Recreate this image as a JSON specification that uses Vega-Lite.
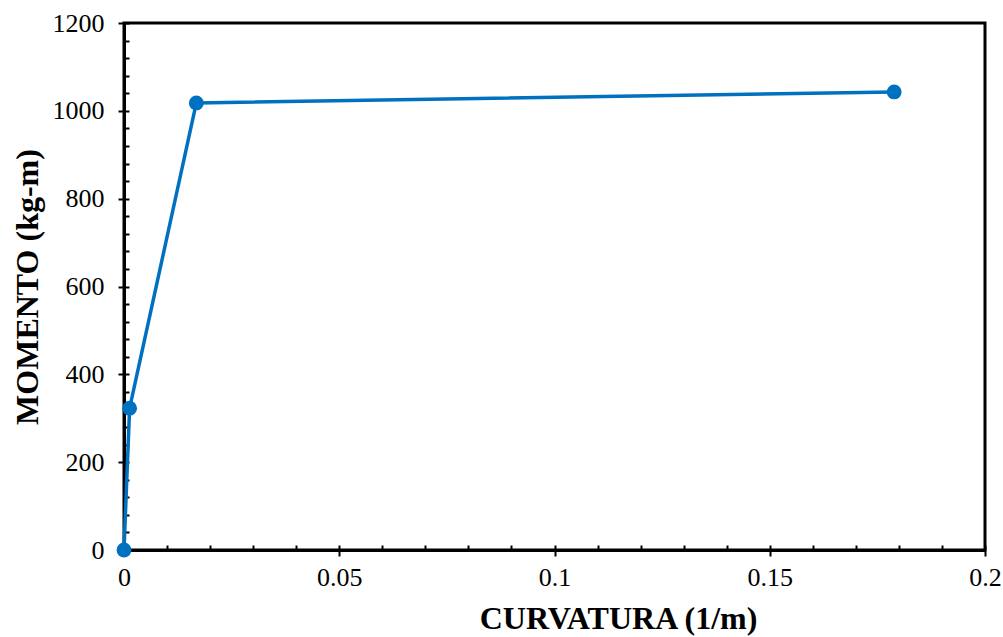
{
  "$schema": "https://vega.github.io/schema/vega-lite/v6.json",
  "autosize": "none",
  "width": 861,
  "height": 527,
  "padding": {"left": 124, "top": 23, "right": 18, "bottom": 87},
  "background": "white",
  "config": {
    "view": {"stroke": "black", "strokeWidth": 3},
    "font": "Liberation Serif"
  },
  "data": {"values": [
    {"curvatura": 0, "momento": 0},
    {"curvatura": 0.0013, "momento": 323},
    {"curvatura": 0.0168, "momento": 1018},
    {"curvatura": 0.1789, "momento": 1043}
  ]},
  "resolve": {"axis": {"x": "independent", "y": "independent"}},
  "layer": [
    {
      "mark": {"type": "line", "color": "#0070C0", "strokeWidth": 3.5},
      "encoding": {
        "x": {"field": "curvatura", "type": "quantitative", "scale": {"domain": [0, 0.2], "nice": false, "zero": false},
          "axis": {"orient": "bottom", "values": [0, 0.05, 0.1, 0.15, 0.2], "format": "~g", "grid": false, "labelFlush": false,
            "domainColor": "black", "domainWidth": 3, "tickColor": "black", "tickWidth": 2, "tickSize": 6,
            "labelFont": "Liberation Serif", "labelFontSize": 26, "labelColor": "black", "labelPadding": 8,
            "title": "CURVATURA (1/m)", "titleFont": "Liberation Serif", "titleFontSize": 32, "titleFontWeight": "bold", "titleColor": "black", "titlePadding": 13, "titleX": 494}},
        "y": {"field": "momento", "type": "quantitative", "scale": {"domain": [0, 1200], "nice": false},
          "axis": {"orient": "left", "values": [0, 200, 400, 600, 800, 1000, 1200], "format": "d", "grid": false, "labelFlush": false,
            "domainColor": "black", "domainWidth": 3, "tickColor": "black", "tickWidth": 2, "tickSize": 6,
            "labelFont": "Liberation Serif", "labelFontSize": 26, "labelColor": "black", "labelPadding": 14,
            "title": "MOMENTO (kg-m)", "titleFont": "Liberation Serif", "titleFontSize": 32, "titleFontWeight": "bold", "titleColor": "black", "titlePadding": 8}}
      }
    },
    {
      "mark": {"type": "point", "filled": true, "color": "#0070C0", "size": 220, "opacity": 1},
      "encoding": {
        "x": {"field": "curvatura", "type": "quantitative",
          "axis": {"orient": "bottom", "values": [0, 0.01, 0.02, 0.03, 0.04, 0.05, 0.06, 0.07, 0.08, 0.09, 0.1, 0.11, 0.12, 0.13, 0.14, 0.15, 0.16, 0.17, 0.18, 0.19, 0.2],
            "grid": false, "domain": false, "labels": false, "title": null, "tickColor": "black", "tickWidth": 2, "tickSize": -5}},
        "y": {"field": "momento", "type": "quantitative",
          "axis": {"orient": "left", "values": [0, 40, 80, 120, 160, 200, 240, 280, 320, 360, 400, 440, 480, 520, 560, 600, 640, 680, 720, 760, 800, 840, 880, 920, 960, 1000, 1040, 1080, 1120, 1160, 1200],
            "grid": false, "domain": false, "labels": false, "title": null, "tickColor": "black", "tickWidth": 2, "tickSize": -5}}
      }
    }
  ]
}
